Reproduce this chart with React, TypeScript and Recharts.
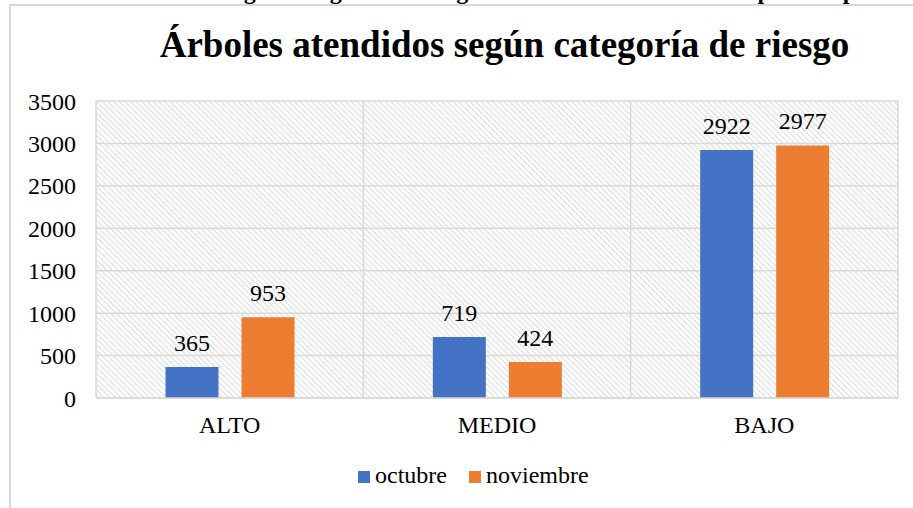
import React from "react";
import { BarChart, Bar, XAxis, YAxis, CartesianGrid, Legend, LabelList } from "recharts";

const CATEGORIES = ["ALTO", "MEDIO", "BAJO"];
const OCTUBRE = [365, 719, 2922];
const NOVIEMBRE = [953, 424, 2977];
const Y_TICKS = [0, 500, 1000, 1500, 2000, 2500, 3000, 3500];
const SERIES = [
  { key: "octubre", color: "#4472C4" },
  { key: "noviembre", color: "#ED7D31" },
];

const TITLE = "Árboles atendidos según categoría de riesgo";
const CAPTION_PREFIX = "Figura 3.";
const CAPTION = "Árboles atendidos según categoría de riesgo noviembre de 2023 con respecto al periodo anterior";

const FONT = "Liberation Serif";
const GRID = "#d9d9d9";

const data = CATEGORIES.map((name, i) => ({
  name,
  octubre: OCTUBRE[i],
  noviembre: NOVIEMBRE[i],
}));

// grid lines sit on the category borders, not the centres
const boundaries = ({ offset }: any) => {
  const step = offset.width / CATEGORIES.length;
  return CATEGORIES.map((_, i) => offset.left + step * i).concat(offset.left + offset.width);
};

const renderLegend = () => (
  <div style={{ display: "flex", alignItems: "baseline", gap: 22, fontFamily: FONT, fontSize: 24, color: "#000" }}>
    {SERIES.map((s) => (
      <span key={s.key} style={{ display: "flex", alignItems: "baseline" }}>
        <span style={{ display: "inline-block", width: 12, height: 12, background: s.color, marginRight: 5 }} />
        {s.key}
      </span>
    ))}
  </div>
);

export default function App() {
  return (
    <div style={{ position: "absolute", left: 0, top: 0, width: 913, height: 508, background: "#fff", overflow: "hidden" }}>
      <svg width={913} height={508} style={{ position: "absolute", left: 0, top: 0 }}>
        <defs>
          <pattern id="hatch" width={4} height={4} patternUnits="userSpaceOnUse" patternTransform="rotate(-45)">
            <rect width={4} height={4} fill="#fff" />
            <rect width={1} height={4} fill="#dcdcdc" />
          </pattern>
        </defs>
        {/* caption of the document, cut off by the top edge */}
        <text x={27} y={-1} textAnchor="end" fontFamily={FONT} fontWeight="bold" fontSize={24} fill="#000">
          {CAPTION_PREFIX}
        </text>
        <text x={33} y={-1} fontFamily={FONT} fontWeight="bold" fontSize={24} fill="#000">
          {CAPTION}
        </text>
        <path d="M10,520 L10,5 L920,5" fill="none" stroke={GRID} strokeWidth={2} />
        <text x={504.5} y={57} textAnchor="middle" fontFamily={FONT} fontWeight="bold" fontSize={37} fill="#000">
          {TITLE}
        </text>
      </svg>
      <div style={{ position: "absolute", left: 0, top: 0 }}>
        <BarChart
          width={913}
          height={508}
          data={data}
          margin={{ top: 101, right: 15, bottom: 70, left: 0 }}
          barCategoryGap="26%"
          barGap={23}
        >
          <CartesianGrid
            stroke={GRID}
            strokeWidth={1.5}
            fill="url(#hatch)"
            verticalCoordinatesGenerator={boundaries}
          />
          <XAxis
            dataKey="name"
            axisLine={{ stroke: GRID, strokeWidth: 1.5 }}
            tickLine={false}
            tickSize={0}
            tickMargin={18}
            height={40}
            tick={{ fill: "#000", fontSize: 24, fontFamily: FONT }}
          />
          <YAxis
            domain={[0, 3500]}
            ticks={Y_TICKS}
            axisLine={false}
            tickLine={false}
            tickSize={0}
            tickMargin={20}
            width={96}
            tick={{ fill: "#000", fontSize: 24, fontFamily: FONT }}
          />
          <Legend
            layout="horizontal"
            verticalAlign="middle"
            align="center"
            content={renderLegend}
            wrapperStyle={{ top: 462, left: 358, width: "auto" }}
          />
          {SERIES.map((s) => (
            <Bar key={s.key} dataKey={s.key} name={s.key} fill={s.color} isAnimationActive={false}>
              <LabelList dataKey={s.key} position="top" offset={16} fill="#000" fontSize={24} fontFamily={FONT} />
            </Bar>
          ))}
        </BarChart>
      </div>
    </div>
  );
}
